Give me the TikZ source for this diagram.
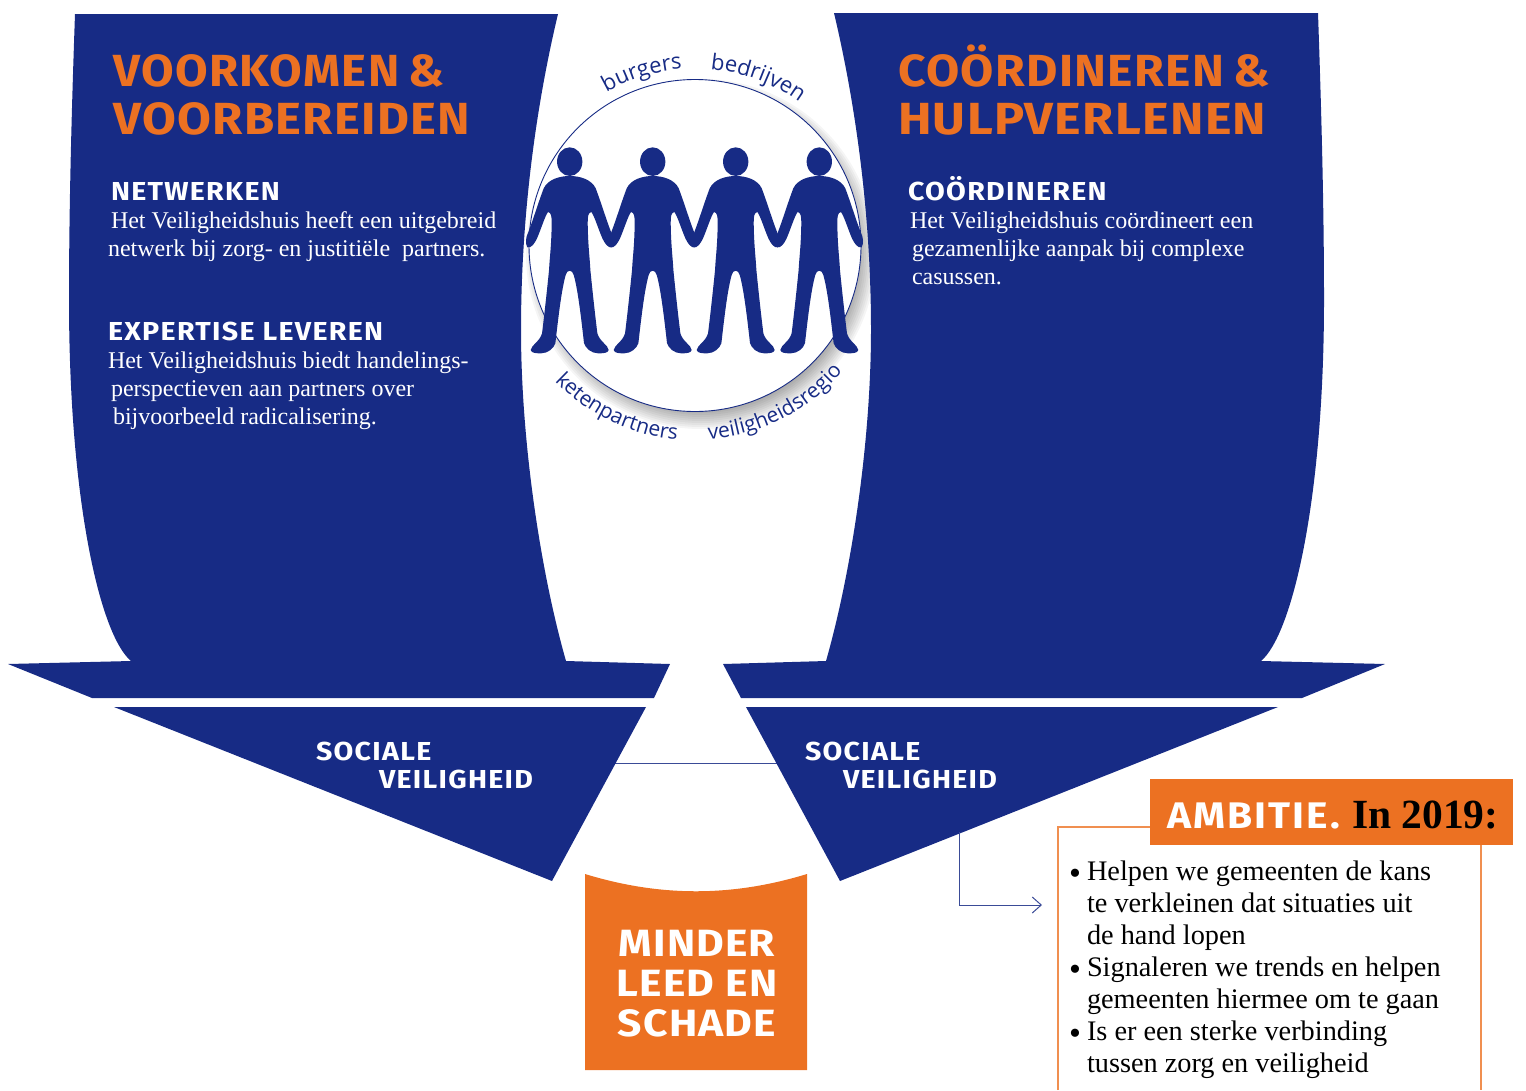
\documentclass[tikz,border=0pt]{standalone}
\usepackage{fontspec}
\setmainfont{Liberation Serif}
\newfontfamily\titleA[LetterSpace=3,FakeStretch=1.05]{Fira Sans}
\newfontfamily\titleB[LetterSpace=3,FakeStretch=1.09]{Fira Sans}
\newfontfamily\titleC[LetterSpace=3,FakeStretch=1.07]{Fira Sans}
\newfontfamily\titleD[LetterSpace=3,FakeStretch=1.12]{Fira Sans}
\newfontfamily\subfont[LetterSpace=5,FakeStretch=1.1]{Fira Sans}
\newfontfamily\safefont[LetterSpace=5,FakeStretch=1.1]{Fira Sans}
\newfontfamily\minderfont[LetterSpace=3,FakeStretch=1.12]{Fira Sans}
\newfontfamily\ambfont[LetterSpace=5.7,FakeStretch=1.1]{Fira Sans}
\newfontfamily\arcfont{Open Sans}
\usetikzlibrary{decorations.text,arrows.meta}
\definecolor{navy}{HTML}{172B85}
\definecolor{orng}{HTML}{EC7122}
\definecolor{orngline}{HTML}{F08F50}
\newcommand{\fs}[1]{\fontsize{#1}{#1}\selectfont}
\tikzset{
  panel/.style={fill=navy,draw=none},
  txt/.style={anchor=base west,inner sep=0pt,outer sep=0pt},
  title/.style={txt,text=orng,font=#1\bfseries\fs{45}},
  subhead/.style={txt,text=white,font=\subfont\bfseries\fs{26}},
  body/.style={txt,text=white,font=\fs{24}},
  safety/.style={txt,text=white,font=\safefont\bfseries\fs{26}},
  listtxt/.style={txt,text=black,font=\fs{28.3}},
  listbullet/.style={txt,text=black,font=\fs{34}},
  center/.style={anchor=base,inner sep=0pt,outer sep=0pt,text=white,font=\minderfont\bfseries\fs{38}},
  thin/.style={draw=navy!85!white,line width=1pt},
  arctext/.style={decorate,decoration={text along path,text format delimiters={|}{|},text align={fit to path},text={#1}}}
}
\newcommand{\arcpath}[5]{%
  \pgfmathsetmacro{\kk}{#1*4/3*tan((#3-#2)/4)}%
  \pgfmathsetmacro{\ax}{695+#1*cos(#2)}\pgfmathsetmacro{\ay}{245.5-#1*sin(#2)}%
  \pgfmathsetmacro{\bx}{695+#1*cos(#3)}\pgfmathsetmacro{\by}{245.5-#1*sin(#3)}%
  \pgfmathsetmacro{\cax}{\ax-\kk*sin(#2)}\pgfmathsetmacro{\cay}{\ay-\kk*cos(#2)}%
  \pgfmathsetmacro{\cbx}{\bx+\kk*sin(#3)}\pgfmathsetmacro{\cby}{\by+\kk*cos(#3)}%
  \path[arctext={|\arcfont\fs{#5}\color{navy}|#4}] (\ax,\ay) .. controls (\cax,\cay) and (\cbx,\cby) .. (\bx,\by);}
\begin{document}
\begin{tikzpicture}[x=1pt,y=-1pt]
\useasboundingbox (0,0) rectangle (1526,1090);
% circle shadow
\foreach \r in {175,173,...,151}{
  \fill[black,opacity=0.04] (701,254) circle[radius=\r];
}
% panels
\fill[panel] (75,14) -- (558,14) .. controls (535,110) and (521,220) .. (521,330)
  .. controls (521,440) and (540,570) .. (566,661) -- (670,664) -- (654,698) -- (92,698) -- (8,664) -- (131,661)
  .. controls (100,635) and (69,500) .. (69,300) .. controls (69,200) and (72,100) .. (75,14) -- cycle;
\fill[panel] (1318,13) -- (834,13) .. controls (857,110) and (871,220) .. (871,330)
  .. controls (871,440) and (852,570) .. (826,661) -- (723,664) -- (741,698) -- (1302,698) -- (1385,664) -- (1261,661)
  .. controls (1292,635) and (1324,500) .. (1324,300) .. controls (1324,200) and (1321,100) .. (1318,13) -- cycle;
% connector between the triangles
\coordinate (bridgeL) at (610,763);
\coordinate (bridgeR) at (785,763);
\draw[thin] (bridgeL) -- (bridgeR);
% triangles
\fill[panel] (114,707) -- (646,707) -- (552,881) -- cycle;
\fill[panel] (746,707) -- (1278,707) -- (840,881) -- cycle;
% circle
\node[circle,draw=navy,fill=white,line width=0.9pt,minimum size=332pt,inner sep=0pt] (ring) at (695,245.5) {};
% people
\foreach \px in {569.7,652.7,735.7,819.3}{
\begin{scope}[shift={(\px,30)},x=0.3333pt,y=-0.3333pt]
\fill[navy] (0,395) ellipse[x radius=38,y radius=43];
\fill[navy] (0,438) .. controls (30,438) and (65,448) .. (78,475)
 .. controls (95,520) and (110,570) .. (124,606) .. controls (132,622) and (134,640) .. (127,652)
 .. controls (115,655) and (105,640) .. (98,625) .. controls (85,595) and (75,560) .. (65,546)
 .. controls (55,548) and (54,560) .. (54,580) .. controls (55,650) and (60,680) .. (62,720)
 .. controls (70,800) and (78,870) .. (83,910) .. controls (90,935) and (115,945) .. (117,960)
 .. controls (115,970) and (100,970) .. (85,970) .. controls (65,970) and (48,955) .. (43,940)
 .. controls (35,870) and (25,780) .. (12,735) .. controls (8,718) and (-8,718) .. (-12,735)
 .. controls (-25,780) and (-35,870) .. (-43,940) .. controls (-48,955) and (-65,970) .. (-85,970)
 .. controls (-100,970) and (-115,970) .. (-117,960) .. controls (-115,945) and (-90,935) .. (-83,910)
 .. controls (-78,870) and (-70,800) .. (-62,720) .. controls (-60,680) and (-55,650) .. (-54,580)
 .. controls (-54,560) and (-55,548) .. (-65,546) .. controls (-75,560) and (-85,595) .. (-98,625)
 .. controls (-105,640) and (-115,655) .. (-127,652) .. controls (-134,640) and (-132,622) .. (-124,606)
 .. controls (-110,570) and (-95,520) .. (-78,475) .. controls (-65,448) and (-30,438) .. (0,438) -- cycle;
\end{scope}
}
% arc labels
\arcpath{177}{120}{95.5}{burgers}{22}
\arcpath{177}{85}{56}{bedrijven}{22}
\arcpath{195}{224}{264.5}{ketenpartners}{21}
\arcpath{194}{274}{319.5}{veiligheidsregio}{21}
% titles
\node[title=\titleA] (t1) at (113,86) {VOORKOMEN\hspace{-4pt} \&};
\node[title=\titleB] (t2) at (113,134) {VOORBEREIDEN};
\node[title=\titleC] (t3) at (898,86) {COÖRDINEREN\hspace{-3pt} \&};
\node[title=\titleD] (t4) at (898,134) {HULPVERLENEN};
% left text
\node[subhead] (h1) at (111,200) {NETWERKEN};
\node[body] (b1) at (111,228) {Het Veiligheidshuis heeft een uitgebreid};
\node[body] (b2) at (108,256) {netwerk bij zorg- en justitiële\ \ partners.};
\node[subhead] (h2) at (108,340) {EXPERTISE LEVEREN};
\node[body] (b3) at (108,368) {Het Veiligheidshuis biedt handelings-};
\node[body] (b4) at (111,396) {perspectieven aan partners over};
\node[body] (b5) at (113,424) {bijvoorbeeld radicalisering.};
% right text
\node[subhead] (h3) at (908,200) {COÖRDINEREN};
\node[body] (b6) at (910,228) {Het Veiligheidshuis coördineert een};
\node[body] (b7) at (912,256) {gezamenlijke aanpak bij complexe};
\node[body] (b8) at (912,284) {casussen.};
% triangle text
\node[safety] (s1) at (316,760) {SOCIALE};
\node[safety] (s2) at (379,788) {VEILIGHEID};
\node[safety] (s3) at (805,760) {SOCIALE};
\node[safety] (s4) at (843,788) {VEILIGHEID};
% centre orange block
\fill[orng] (585,874) .. controls (660,897) and (732,897) .. (807,874) -- (807,1070) -- (585,1070) -- cycle;
\node[center] (m1) at (697,956) {MINDER};
\node[center] (m2) at (697,996) {LEED EN};
\node[center] (m3) at (697,1036) {SCHADE};
% ambition box
\draw[orngline,line width=1.2pt] (1058,1090) -- (1058,827) -- (1481,827) -- (1481,1090);
\fill[orng] (1150,779) rectangle (1513,845);
\node[txt,text=white,font=\ambfont\bfseries\fs{37}] (a1) at (1167,828) {AMBITIE.};
\node[txt,text=black,font=\bfseries\fs{41.5}] (a2) at (1352,828) {In 2019:};
\node[listbullet] (l0) at (1069,884) {•};
\node[listtxt] (l1) at (1087,880) {Helpen we gemeenten de kans};
\node[listtxt] (l2) at (1087,912) {te verkleinen dat situaties uit};
\node[listtxt] (l3) at (1087,944) {de hand lopen};
\node[listbullet] (l4) at (1069,980) {•};
\node[listtxt] (l5) at (1087,976) {Signaleren we trends en helpen};
\node[listtxt] (l6) at (1087,1008) {gemeenten hiermee om te gaan};
\node[listbullet] (l7) at (1069,1044) {•};
\node[listtxt] (l8) at (1087,1040) {Is er een sterke verbinding};
\node[listtxt] (l9) at (1087,1072) {tussen zorg en veiligheid};
% elbow connector
\coordinate (elbowS) at (959,832);
\coordinate (elbowE) at (1042,905);
\draw[thin,-{Straight Barb[length=9pt,width=16pt]}] (elbowS) |- (elbowE);
\end{tikzpicture}
\end{document}
